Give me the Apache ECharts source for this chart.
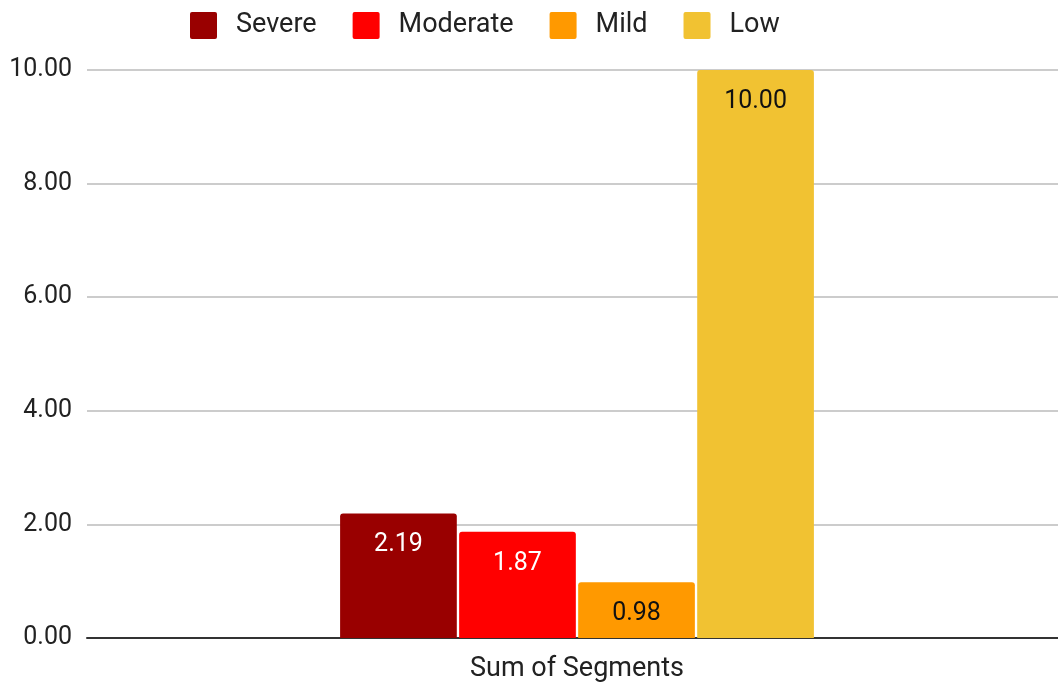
<!DOCTYPE html>
<html><head><meta charset="utf-8">
<script src="https://cdn.jsdelivr.net/npm/echarts@6/dist/echarts.min.js"></script>
<style>html,body{margin:0;padding:0;background:#fff;overflow:hidden}#c{width:1067px;height:685px}</style>
</head><body><div id="c"></div>
<script>
const categories = ['Sum of Segments'];
const seriesNames = ['Severe', 'Moderate', 'Mild', 'Low'];
const severe = [2.19];
const moderate = [1.87];
const mild = [0.98];
const low = [10.00];
const yTicks = [0, 2, 4, 6, 8, 10];

const colors = ['#990000', '#ff0000', '#ff9900', '#f1c232'];
const labelColors = ['#ffffff', '#ffffff', '#111111', '#111111'];
const values = [severe, moderate, mild, low];
const F = 'Roboto, sans-serif';
const sq = 'path://M2,0 H25 Q27,0 27,2 V25 Q27,27 25,27 H2 Q0,27 0,25 V2 Q0,0 2,0 Z';

const chart = echarts.init(document.getElementById('c'), null, {renderer: 'canvas'});
chart.setOption({
  animation: false,
  textStyle: {fontFamily: F},
  legend: {
    left: 185, top: 7,
    itemWidth: 27, itemHeight: 27, itemGap: 36,
    icon: sq,
    textStyle: {fontFamily: F, fontSize: 27, color: '#222', padding: [0, 0, 0, 14]},
    data: seriesNames
  },
  grid: {left: 87, right: 0, top: 70, bottom: 47, containLabel: false},
  xAxis: {
    type: 'category', data: categories,
    axisLine: {show: true, lineStyle: {color: '#333', width: 2}},
    axisTick: {show: false},
    axisLabel: {fontFamily: F, fontSize: 27, color: '#222', margin: 18}
  },
  yAxis: {
    type: 'value', min: yTicks[0], max: yTicks[yTicks.length - 1], interval: 2,
    axisLine: {show: false}, axisTick: {show: false},
    splitLine: {lineStyle: {color: '#cccccc', width: 2}},
    axisLabel: {fontFamily: F, fontSize: 25, color: '#222', margin: 15,
      formatter: v => v.toFixed(2)}
  },
  series: seriesNames.map((n, i) => ({
    name: n, type: 'bar', data: values[i],
    barWidth: 116.7, barGap: '2%',
    itemStyle: {color: colors[i], borderRadius: [3, 3, 0, 0]},
    label: {show: true, position: 'insideTop', distance: 19,
      fontFamily: F, fontSize: 25, color: labelColors[i],
      formatter: p => p.value.toFixed(2)}
  }))
});
</script></body></html>
